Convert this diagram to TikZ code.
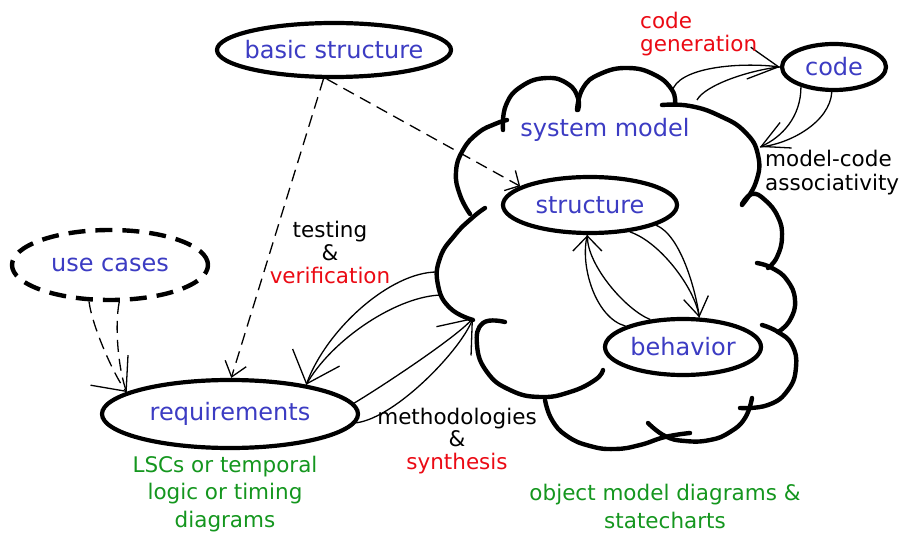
\documentclass[tikz,border=0pt]{standalone}
\usepackage{fontspec}
\setmainfont{DejaVu Sans}
\usetikzlibrary{arrows.meta,shapes.geometric}
\definecolor{nodeblue}{RGB}{60,60,195}
\definecolor{lblred}{RGB}{235,10,20}
\definecolor{lblgreen}{RGB}{20,150,30}
\begin{document}
\begin{tikzpicture}[x=1pt,y=-1pt,
  ell/.style={ellipse, draw, fill=white, line width=4.2pt, inner sep=0pt, text=nodeblue, font=\fontsize{24}{28}\selectfont},
  cloudline/.style={line width=4.4pt, line cap=round, line join=round},
  conn/.style={line width=1.3pt},
  dconn/.style={line width=1.3pt, dash pattern=on 12pt off 7pt},
  lbl/.style={align=center, inner sep=0pt},
]
\useasboundingbox (0,0) rectangle (902,534);

% cloud (system model)
\draw[cloudline] plot[smooth, tension=0.8] coordinates {(470,214) (460,195) (456,172) (463,150) (478,133) (495,124) (507,120)};
\draw[cloudline] plot[smooth, tension=0.8] coordinates {(503,130) (506,105) (522,86) (547,78) (568,84) (578,98) (578,110)};
\draw[cloudline] plot[smooth, tension=0.8] coordinates {(577,110) (583,88) (600,74) (628,68) (655,75) (672,90) (675,104)};
\draw[cloudline] plot[smooth, tension=0.8] coordinates {(662,105) (690,106) (720,116) (745,132) (758,155) (756,182) (742,205)};
\draw[cloudline] plot[smooth, tension=0.8] coordinates {(742,204) (752,194) (765,200) (778,217) (782,237) (777,257) (768,268)};
\draw[cloudline] plot[smooth, tension=0.8] coordinates {(757,263) (772,268) (787,280) (795,300) (790,320) (778,332)};
\draw[cloudline] plot[smooth, tension=0.8] coordinates {(762,325) (778,332) (792,345) (796,367) (788,390) (768,405) (740,408)};
\draw[cloudline] plot[smooth, tension=0.8] coordinates {(752,398) (745,418) (730,432) (710,440) (685,441) (665,436) (648,423)};
\draw[cloudline] plot[smooth, tension=0.8] coordinates {(545,400) (552,420) (567,436) (590,446) (615,449) (640,445) (665,437) (690,433)};
\draw[cloudline] plot[smooth, tension=0.8] coordinates {(505,322) (483,323) (477,345) (487,372) (510,390) (540,397) (570,392) (595,380) (603,370)};
\draw[cloudline] plot[smooth, tension=0.8] coordinates {(473,320) (450,308) (438,285) (440,258) (455,235) (472,218) (485,208)};

% attachment points on the cloud
\coordinate (v1) at (437,272);
\coordinate (v2) at (443,295);
\coordinate (s) at (473,318);
\coordinate (cg1) at (672,92);
\coordinate (cg2) at (697,100);
\coordinate (mc) at (760,147);

% nodes
\node[ell, minimum width=234pt, minimum height=54pt] (bs) at (334,50) {\makebox[0pt]{basic structure}};
\node[ell, line width=4.4pt, dash pattern=on 17pt off 10pt, minimum width=196pt, minimum height=70pt] (uc) at (110,265) {\makebox[0pt]{use cases}};
\node[ell, minimum width=256pt, minimum height=68pt] (req) at (230,414) {\makebox[0pt]{requirements}};
\node[ell, minimum width=174pt, minimum height=56pt] (st) at (590,205) {\makebox[0pt]{structure}};
\node[ell, minimum width=156pt, minimum height=56pt] (beh) at (683,347) {\makebox[0pt]{behavior}};
\node[ell, minimum width=104pt, minimum height=46pt] (code) at (834,67) {\makebox[0pt]{code}};
\node[text=nodeblue, font=\fontsize{24}{28}\selectfont, inner sep=0pt] (sm) at (605,130) {system model};

% dashed connectors
\draw[dconn, -{Straight Barb[length=14pt,width=22pt]}] (bs.250) -- (req.88);
\draw[dconn, -{Straight Barb[length=11pt,width=23pt]}] (bs.256) -- (st.165);
\draw[dconn, -{Straight Barb[length=27pt,width=48pt]}] (uc.240) .. controls +(3,25) and +(-12,-15) .. (req.168);
\draw[dconn] (uc.284) .. controls +(-5,25) and +(-8,-20) .. (req.168);

% testing & verification
\draw[conn, -{Straight Barb[length=28pt,width=50pt]}] (v1) .. controls +(-47,0) and +(20,-55) .. (req.21);
\draw[conn] (v2) .. controls +(-45,0) and +(25,-45) .. (req.21);

% methodologies & synthesis
\draw[conn, -{Straight Barb[length=29pt,width=45pt]}] (req.5) .. controls +(30,-18) and +(-15,18) .. (s);
\draw[conn] (req.-4) .. controls +(40,-5) and +(-10,30) .. (s);

% code generation
\draw[conn, -{Straight Barb[length=30pt,width=32pt]}] (cg1) .. controls +(5,-25) and +(-40,-5) .. (code.180);
\draw[conn] (cg2) .. controls +(8,-15) and +(-30,3) .. (code.180);

% model-code associativity
\draw[conn, -{Straight Barb[length=27pt,width=28pt]}] (code.211) .. controls +(0,30) and +(22,-10) .. (mc);
\draw[conn] (code.265) .. controls +(-2,30) and +(30,-3) .. (mc);

% structure <-> behavior
\draw[conn, -{Straight Barb[length=19pt,width=25pt]}] (st.-34) .. controls +(30,10) and +(-5,-30) .. (beh.61);
\draw[conn] (st.-17) .. controls +(25,10) and +(-3,-25) .. (beh.61);
\draw[conn, -{Straight Barb[length=15pt,width=29pt]}] (beh.140) .. controls +(-25,-10) and +(0,30) .. (st.265);
\draw[conn] (beh.160) .. controls +(-30,-8) and +(-8,30) .. (st.265);

% labels
\node[lbl, text=lblred, align=left, anchor=west, font=\fontsize{21.5}{23}\selectfont] (cgl) at (640,34) {code\\generation};
\node[lbl, align=left, anchor=west, font=\fontsize{21.5}{24}\selectfont] (mcl) at (765,173) {model-code\\associativity};
\node[lbl, font=\fontsize{21.5}{23}\selectfont] (tvl) at (330,252) {testing\\\&\\\textcolor{lblred}{verification}};
\node[lbl, font=\fontsize{21.5}{22.5}\selectfont] (msl) at (457,441) {methodologies\\\&\\\textcolor{lblred}{synthesis}};
\node[lbl, text=lblgreen, font=\fontsize{21.5}{27.5}\selectfont] (lscl) at (225,494) {LSCs or temporal\\logic or timing\\diagrams};
\node[lbl, text=lblgreen, font=\fontsize{21.5}{28}\selectfont] (omdl) at (665,506) {object model diagrams \&\\statecharts};
\end{tikzpicture}
\end{document}
